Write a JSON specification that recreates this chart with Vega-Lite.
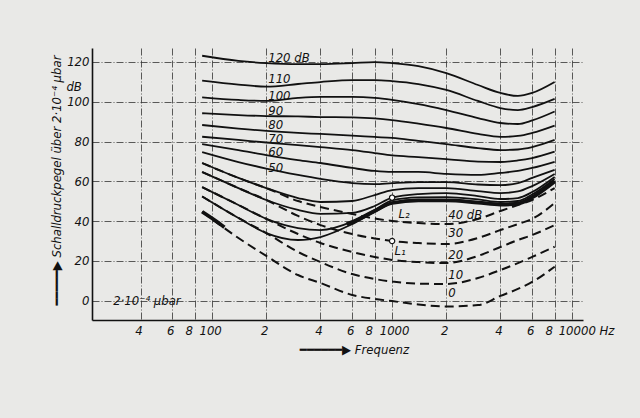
{
  "$schema": "https://vega.github.io/schema/vega-lite/v6.json",
  "width": 491,
  "height": 272,
  "autosize": {"type": "none"},
  "padding": {"left": 92, "top": 48, "right": 57, "bottom": 98},
  "background": "#e9e9e7",
  "config": {
    "view": {"stroke": null},
    "font": "Liberation Sans Narrow, DejaVu Sans Condensed, DejaVu Sans",
    "text": {"font": "Liberation Sans Narrow, DejaVu Sans Condensed, DejaVu Sans", "fontStyle": "italic", "fontSize": 13, "color": "#111"}
  },
  "datasets": {
    "solid": [
      {"c":"120","f":88,"db":123.1},{"c":"120","f":140,"db":120.5},{"c":"120","f":200,"db":119.4},{"c":"120","f":300,"db":118.9},{"c":"120","f":400,"db":118.9},{"c":"120","f":600,"db":119.4},{"c":"120","f":800,"db":119.9},{"c":"120","f":1000,"db":119.4},{"c":"120","f":1400,"db":117.9},{"c":"120","f":2000,"db":114.4},{"c":"120","f":3000,"db":108.4},{"c":"120","f":4000,"db":104.4},{"c":"120","f":5000,"db":102.9},{"c":"120","f":6000,"db":104.4},{"c":"120","f":8000,"db":109.9},
      {"c":"110","f":88,"db":110.6},{"c":"110","f":140,"db":108.6},{"c":"110","f":200,"db":107.6},{"c":"110","f":300,"db":108.9},{"c":"110","f":400,"db":109.9},{"c":"110","f":600,"db":110.9},{"c":"110","f":800,"db":110.9},{"c":"110","f":1000,"db":110.4},{"c":"110","f":1400,"db":108.9},{"c":"110","f":2000,"db":105.9},{"c":"110","f":3000,"db":100.4},{"c":"110","f":4000,"db":96.8},{"c":"110","f":5000,"db":95.8},{"c":"110","f":6000,"db":97.3},{"c":"110","f":8000,"db":101.4},
      {"c":"100","f":88,"db":102.2},{"c":"100","f":140,"db":100.9},{"c":"100","f":200,"db":100.4},{"c":"100","f":300,"db":101.9},{"c":"100","f":400,"db":102.4},{"c":"100","f":600,"db":102.4},{"c":"100","f":800,"db":101.9},{"c":"100","f":1000,"db":100.9},{"c":"100","f":1400,"db":98.8},{"c":"100","f":2000,"db":95.8},{"c":"100","f":3000,"db":91.8},{"c":"100","f":4000,"db":89.3},{"c":"100","f":5000,"db":88.8},{"c":"100","f":6000,"db":90.6},{"c":"100","f":8000,"db":95.1},
      {"c":"90","f":88,"db":94.2},{"c":"90","f":140,"db":93.3},{"c":"90","f":200,"db":92.8},{"c":"90","f":300,"db":92.6},{"c":"90","f":400,"db":92.3},{"c":"90","f":600,"db":92.1},{"c":"90","f":800,"db":91.6},{"c":"90","f":1000,"db":90.8},{"c":"90","f":1400,"db":89.0},{"c":"90","f":2000,"db":86.8},{"c":"90","f":3000,"db":83.8},{"c":"90","f":4000,"db":82.3},{"c":"90","f":5000,"db":82.8},{"c":"90","f":6000,"db":84.3},{"c":"90","f":8000,"db":88.0},
      {"c":"80","f":88,"db":88.3},{"c":"80","f":140,"db":86.5},{"c":"80","f":200,"db":85.3},{"c":"80","f":300,"db":84.3},{"c":"80","f":400,"db":83.8},{"c":"80","f":600,"db":83.0},{"c":"80","f":800,"db":82.3},{"c":"80","f":1000,"db":81.8},{"c":"80","f":1400,"db":80.3},{"c":"80","f":2000,"db":78.7},{"c":"80","f":3000,"db":76.7},{"c":"80","f":4000,"db":75.7},{"c":"80","f":5000,"db":76.0},{"c":"80","f":6000,"db":77.2},{"c":"80","f":8000,"db":80.8},
      {"c":"70","f":88,"db":82.4},{"c":"70","f":140,"db":80.8},{"c":"70","f":200,"db":79.5},{"c":"70","f":300,"db":78.2},{"c":"70","f":400,"db":77.2},{"c":"70","f":600,"db":75.7},{"c":"70","f":800,"db":74.2},{"c":"70","f":1000,"db":73.0},{"c":"70","f":1400,"db":72.2},{"c":"70","f":2000,"db":71.2},{"c":"70","f":3000,"db":69.9},{"c":"70","f":4000,"db":69.7},{"c":"70","f":5000,"db":70.5},{"c":"70","f":6000,"db":71.7},{"c":"70","f":8000,"db":74.9},
      {"c":"60","f":88,"db":78.7},{"c":"60","f":140,"db":75.7},{"c":"60","f":200,"db":73.2},{"c":"60","f":300,"db":70.7},{"c":"60","f":400,"db":69.2},{"c":"60","f":600,"db":66.7},{"c":"60","f":800,"db":65.2},{"c":"60","f":1000,"db":64.7},{"c":"60","f":1400,"db":64.7},{"c":"60","f":2000,"db":63.7},{"c":"60","f":3000,"db":63.2},{"c":"60","f":4000,"db":64.2},{"c":"60","f":5000,"db":65.2},{"c":"60","f":6000,"db":66.7},{"c":"60","f":8000,"db":69.8},
      {"c":"50","f":88,"db":74.7},{"c":"50","f":140,"db":69.7},{"c":"50","f":200,"db":66.4},{"c":"50","f":300,"db":63.2},{"c":"50","f":400,"db":61.2},{"c":"50","f":600,"db":59.1},{"c":"50","f":800,"db":58.6},{"c":"50","f":1000,"db":59.1},{"c":"50","f":1400,"db":59.6},{"c":"50","f":2000,"db":59.6},{"c":"50","f":3000,"db":58.4},{"c":"50","f":4000,"db":58.1},{"c":"50","f":5000,"db":59.1},{"c":"50","f":6000,"db":61.7},{"c":"50","f":8000,"db":65.7},
      {"c":"M40","f":88,"db":69.2},{"c":"M40","f":140,"db":61.7},{"c":"M40","f":200,"db":56.6},{"c":"M40","f":300,"db":51.6},{"c":"M40","f":400,"db":49.6},{"c":"M40","f":600,"db":50.1},{"c":"M40","f":800,"db":53.1},{"c":"M40","f":1000,"db":55.6},{"c":"M40","f":1400,"db":56.6},{"c":"M40","f":2000,"db":56.6},{"c":"M40","f":3000,"db":55.1},{"c":"M40","f":4000,"db":54.1},{"c":"M40","f":5000,"db":54.9},{"c":"M40","f":6000,"db":57.6},{"c":"M40","f":8000,"db":63.7},
      {"c":"M30","f":88,"db":64.7},{"c":"M30","f":140,"db":56.6},{"c":"M30","f":200,"db":50.6},{"c":"M30","f":300,"db":45.6},{"c":"M30","f":400,"db":43.6},{"c":"M30","f":600,"db":44.1},{"c":"M30","f":800,"db":47.6},{"c":"M30","f":1000,"db":51.8},{"c":"M30","f":1400,"db":53.6},{"c":"M30","f":2000,"db":54.1},{"c":"M30","f":3000,"db":52.6},{"c":"M30","f":4000,"db":51.1},{"c":"M30","f":5000,"db":51.6},{"c":"M30","f":6000,"db":54.6},{"c":"M30","f":8000,"db":62.2},
      {"c":"M20","f":88,"db":57.1},{"c":"M20","f":140,"db":48.1},{"c":"M20","f":200,"db":41.1},{"c":"M20","f":300,"db":36.5},{"c":"M20","f":400,"db":35.5},{"c":"M20","f":600,"db":39.7},{"c":"M20","f":800,"db":45.6},{"c":"M20","f":1000,"db":50.4},{"c":"M20","f":1400,"db":51.9},{"c":"M20","f":2000,"db":52.1},{"c":"M20","f":3000,"db":50.9},{"c":"M20","f":4000,"db":49.6},{"c":"M20","f":5000,"db":50.1},{"c":"M20","f":6000,"db":53.4},{"c":"M20","f":8000,"db":61.2},
      {"c":"M10","f":88,"db":52.4},{"c":"M10","f":140,"db":41.6},{"c":"M10","f":200,"db":34.0},{"c":"M10","f":300,"db":30.5},{"c":"M10","f":400,"db":32.0},{"c":"M10","f":600,"db":38.5},{"c":"M10","f":800,"db":44.6},{"c":"M10","f":1000,"db":49.1},{"c":"M10","f":1400,"db":50.6},{"c":"M10","f":2000,"db":50.6},{"c":"M10","f":3000,"db":49.6},{"c":"M10","f":4000,"db":48.6},{"c":"M10","f":5000,"db":49.1},{"c":"M10","f":6000,"db":52.4},{"c":"M10","f":8000,"db":60.2}
    ],
    "dashed": [
      {"c":"0","f":88,"db":44.7},{"c":"0","f":140,"db":31.5},{"c":"0","f":200,"db":22.5},{"c":"0","f":300,"db":12.9},{"c":"0","f":400,"db":8.9},{"c":"0","f":600,"db":2.9},{"c":"0","f":800,"db":0.9},{"c":"0","f":1000,"db":-0.2},{"c":"0","f":1400,"db":-1.9},{"c":"0","f":2000,"db":-2.9},{"c":"0","f":3000,"db":-2.2},{"c":"0","f":4000,"db":2.4},{"c":"0","f":5000,"db":5.9},{"c":"0","f":6000,"db":9.4},{"c":"0","f":8000,"db":17.1},
      {"c":"10","f":88,"db":52.4},{"c":"10","f":140,"db":41.6},{"c":"10","f":200,"db":34.0},{"c":"10","f":300,"db":24.5},{"c":"10","f":400,"db":19.4},{"c":"10","f":600,"db":13.4},{"c":"10","f":800,"db":10.9},{"c":"10","f":1000,"db":9.6},{"c":"10","f":1400,"db":8.6},{"c":"10","f":2000,"db":8.4},{"c":"10","f":3000,"db":11.4},{"c":"10","f":4000,"db":15.4},{"c":"10","f":5000,"db":18.9},{"c":"10","f":6000,"db":22.0},{"c":"10","f":8000,"db":27.1},
      {"c":"20","f":88,"db":57.1},{"c":"20","f":140,"db":48.1},{"c":"20","f":200,"db":41.1},{"c":"20","f":300,"db":33.5},{"c":"20","f":400,"db":29.0},{"c":"20","f":600,"db":24.5},{"c":"20","f":800,"db":22.0},{"c":"20","f":1000,"db":20.5},{"c":"20","f":1400,"db":19.4},{"c":"20","f":2000,"db":18.9},{"c":"20","f":3000,"db":22.5},{"c":"20","f":4000,"db":27.0},{"c":"20","f":5000,"db":30.5},{"c":"20","f":6000,"db":33.0},{"c":"20","f":8000,"db":38.0},
      {"c":"30","f":88,"db":64.7},{"c":"30","f":140,"db":56.6},{"c":"30","f":200,"db":50.6},{"c":"30","f":300,"db":42.6},{"c":"30","f":400,"db":38.0},{"c":"30","f":600,"db":33.5},{"c":"30","f":800,"db":31.3},{"c":"30","f":1000,"db":30.0},{"c":"30","f":1400,"db":29.0},{"c":"30","f":2000,"db":28.5},{"c":"30","f":3000,"db":31.5},{"c":"30","f":4000,"db":35.5},{"c":"30","f":5000,"db":38.5},{"c":"30","f":6000,"db":41.1},{"c":"30","f":8000,"db":49.1},
      {"c":"40","f":88,"db":69.2},{"c":"40","f":140,"db":61.7},{"c":"40","f":200,"db":56.6},{"c":"40","f":300,"db":50.1},{"c":"40","f":400,"db":47.1},{"c":"40","f":600,"db":43.6},{"c":"40","f":800,"db":41.3},{"c":"40","f":1000,"db":40.1},{"c":"40","f":1400,"db":39.0},{"c":"40","f":2000,"db":38.5},{"c":"40","f":3000,"db":41.1},{"c":"40","f":4000,"db":45.1},{"c":"40","f":5000,"db":48.1},{"c":"40","f":6000,"db":50.6},{"c":"40","f":8000,"db":56.6}
    ],
    "thick": [
      {"c":"L2","f":560,"db":38.5},{"c":"L2","f":600,"db":39.5},{"c":"L2","f":800,"db":45.1},{"c":"L2","f":1000,"db":49.1},{"c":"L2","f":1400,"db":50.4},{"c":"L2","f":2000,"db":50.4},{"c":"L2","f":3000,"db":49.3},{"c":"L2","f":4000,"db":48.3},{"c":"L2","f":5000,"db":48.8},{"c":"L2","f":6000,"db":51.9},{"c":"L2","f":8000,"db":59.9},
      {"c":"0","f":88,"db":44.7},{"c":"0","f":104,"db":40.3},{"c":"0","f":117,"db":36.9}
    ],
    "markers": [
      {"p":"L2","f":1000,"db":51.8},{"p":"L1","f":1000,"db":30}
    ],
    "labelsLeft": [
      {"f":205,"db":122.2,"t":"120 dB"},{"f":205,"db":111.4,"t":"110"},{"f":205,"db":103.1,"t":"100"},{"f":205,"db":95.1,"t":"90"},{"f":205,"db":88.1,"t":"80"},{"f":205,"db":81.3,"t":"70"},{"f":205,"db":74.5,"t":"60"},{"f":205,"db":66.9,"t":"50"},
      {"f":2050,"db":43.1,"t":"40 dB"},{"f":2050,"db":34,"t":"30"},{"f":2050,"db":23,"t":"20"},{"f":2050,"db":12.9,"t":"10"},{"f":2050,"db":3.9,"t":"0"},
      {"f":28.2,"db":-0.2,"t":"2·10⁻⁴ μbar"}
    ],
    "labelsCenter": [
      {"f":1166,"db":43.6,"t":"L₂"},{"f":1108,"db":25,"t":"L₁"},{"f":17.1,"db":107.4,"t":"dB"}
    ]
  },
  "encoding": {
    "x": {
      "field": "f", "type": "quantitative",
      "scale": {"type": "log", "domain": [21.5, 11500], "nice": false},
      "axis": {
        "values": [40,60,80,100,200,400,600,800,1000,2000,4000,6000,8000,10000],
        "labelExpr": "datum.value==100?'100':datum.value==1000?'1000':datum.value==10000?'10000 Hz':datum.value<100?format(datum.value/10,'d'):datum.value<1000?format(datum.value/100,'d'):format(datum.value/1000,'d')",
        "labelOffset": {"condition": [{"test": "datum.value==10000", "value": 14}, {"test": "datum.value==1000", "value": 2}, {"test": "datum.value==80||datum.value==800||datum.value==8000", "value": -6}], "value": -2},
        "grid": true, "gridDash": [7,2,1,2], "gridColor": "#333", "gridWidth": 0.8,
        "ticks": false, "domainColor": "#111", "domainWidth": 1.6,
        "labelFontSize": 13, "labelFontStyle": "italic", "labelColor": "#111", "labelPadding": 4,
        "labelFlush": false, "labelOverlap": false,
        "title": "━━━━━━▶ Frequenz", "titleFontSize": 13, "titleFontStyle": "italic", "titleFontWeight": "normal",
        "titleColor": "#111", "titlePadding": 6, "titleX": 262
      }
    },
    "y": {
      "field": "db", "type": "quantitative",
      "scale": {"domain": [-9.7, 127], "nice": false, "zero": false},
      "axis": {
        "values": [0,20,40,60,80,100,120],
        "grid": true, "gridDash": [7,2,1,2], "gridColor": "#333", "gridWidth": 0.8,
        "ticks": false, "domainColor": "#111", "domainWidth": 1.6,
        "labelFontSize": 13, "labelFontStyle": "italic", "labelColor": "#111", "labelPadding": 3,
        "title": "━━━━━▶ Schalldruckpegel über 2·10⁻⁴ μbar", "titleFontSize": 13, "titleFontStyle": "italic", "titleFontWeight": "normal",
        "titleColor": "#111", "titlePadding": 3, "titleY": 132
      }
    }
  },
  "layer": [
    {"data": {"name": "dashed"}, "mark": {"type": "line", "interpolate": "monotone", "strokeDash": [9,5], "strokeWidth": 2, "color": "#111"}, "encoding": {"detail": {"field": "c"}}},
    {"data": {"name": "solid"}, "mark": {"type": "line", "interpolate": "monotone", "strokeWidth": 1.8, "color": "#111"}, "encoding": {"detail": {"field": "c"}}},
    {"data": {"name": "thick"}, "mark": {"type": "line", "interpolate": "monotone", "strokeWidth": 3.8, "color": "#111"}, "encoding": {"detail": {"field": "c"}}},
    {"data": {"name": "markers"}, "mark": {"type": "point", "shape": "circle", "filled": true, "fill": "#fff", "stroke": "#111", "strokeWidth": 1.2, "size": 28, "opacity": 1}, "encoding": {}},
    {"data": {"name": "labelsLeft"}, "mark": {"type": "text", "align": "left", "baseline": "middle"}, "encoding": {"text": {"field": "t"}}},
    {"data": {"name": "labelsCenter"}, "mark": {"type": "text", "align": "center", "baseline": "middle"}, "encoding": {"text": {"field": "t"}}}
  ]
}
